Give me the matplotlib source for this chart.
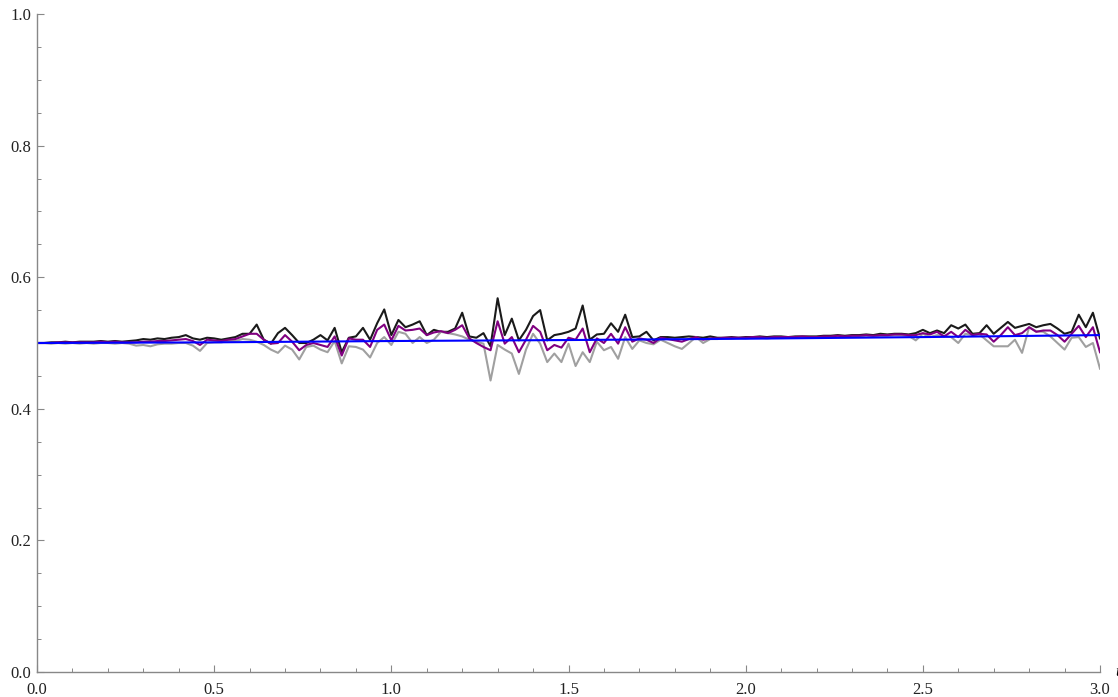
import numpy as np
import matplotlib
matplotlib.use("Agg")
import matplotlib.pyplot as plt
from matplotlib.ticker import MultipleLocator

# sample times (step 0.02 from 0 to 3)
t = np.round(np.arange(151) * 0.02, 2)

upper = [
    .500, .500, .501, .501, .502, .501, .502, .502, .502, .503,
    .502, .503, .502, .503, .504, .506, .505, .507, .506, .508,
    .509, .512, .507, .505, .508, .507, .505, .507, .509, .514,
    .514, .528, .505, .499, .515, .523, .512, .500, .500, .505,
    .512, .504, .523, .486, .508, .510, .523, .505, .530, .551,
    .512, .535, .524, .528, .533, .512, .520, .517, .517, .522,
    .546, .510, .508, .515, .495, .568, .512, .537, .504, .520,
    .541, .550, .504, .512, .514, .517, .522, .557, .505, .513,
    .514, .530, .517, .543, .509, .510, .517, .504, .509, .509,
    .508, .509, .510, .509, .508, .510, .508, .508, .509, .508,
    .509, .509, .510, .509, .510, .510, .509, .510, .510, .510,
    .510, .511, .511, .512, .511, .512, .512, .513, .512, .514,
    .513, .514, .514, .513, .515, .520, .515, .519, .515, .527,
    .522, .528, .514, .515, .527, .514, .523, .532, .523, .526,
    .529, .524, .527, .529, .522, .514, .517, .543, .524, .546,
    .507,
]

mean = [
    .500, .500, .500, .501, .501, .501, .501, .501, .501, .502,
    .501, .502, .501, .501, .501, .502, .502, .503, .503, .504,
    .505, .506, .503, .497, .505, .504, .503, .505, .506, .510,
    .514, .514, .505, .499, .500, .512, .502, .489, .497, .500,
    .497, .494, .510, .481, .507, .505, .505, .494, .520, .528,
    .504, .526, .519, .520, .522, .512, .516, .518, .515, .520,
    .527, .507, .500, .494, .489, .533, .499, .509, .486, .505,
    .526, .517, .489, .497, .493, .508, .505, .522, .486, .507,
    .500, .514, .499, .524, .502, .507, .505, .500, .508, .506,
    .504, .502, .506, .509, .505, .507, .507, .508, .508, .508,
    .508, .509, .509, .508, .509, .509, .509, .509, .510, .509,
    .509, .510, .510, .511, .510, .511, .511, .512, .511, .512,
    .512, .513, .513, .512, .512, .515, .513, .517, .510, .517,
    .509, .520, .512, .514, .513, .502, .512, .524, .512, .515,
    .524, .517, .519, .519, .512, .502, .514, .526, .509, .524,
    .486,
]

lower = [
    .500, .500, .499, .500, .499, .500, .499, .500, .499, .500,
    .500, .499, .500, .499, .496, .497, .495, .498, .499, .499,
    .500, .500, .496, .488, .500, .501, .501, .503, .503, .506,
    .505, .502, .497, .490, .485, .496, .490, .475, .494, .496,
    .490, .486, .503, .469, .495, .494, .490, .478, .500, .509,
    .497, .517, .514, .500, .509, .500, .505, .517, .515, .513,
    .510, .505, .502, .499, .443, .497, .490, .484, .453, .490,
    .514, .499, .471, .484, .471, .499, .465, .486, .471, .502,
    .489, .494, .476, .509, .491, .504, .500, .498, .505, .500,
    .495, .491, .500, .509, .500, .506, .506, .507, .507, .508,
    .507, .508, .508, .507, .508, .508, .508, .509, .509, .508,
    .509, .509, .509, .510, .509, .510, .510, .511, .510, .511,
    .511, .512, .512, .511, .504, .514, .509, .512, .511, .509,
    .500, .514, .512, .513, .504, .495, .495, .495, .505, .485,
    .524, .518, .517, .510, .500, .490, .508, .509, .494, .500,
    .461,
]

# smooth reference curve
t_ref = [0.0, 0.5, 1.0, 1.5, 2.0, 2.5, 3.0]
ref = [0.500, 0.501, 0.503, 0.5045, 0.5065, 0.509, 0.512]

plt.rcParams['font.family'] = ['Liberation Serif', 'DejaVu Serif']

fig = plt.figure(figsize=(11.18, 6.97), dpi=100)
ax = fig.add_axes([37/1118, 25/697, 1063/1118, 658/697])

ax.plot(t, upper, color='#1a1a1a', lw=1.5)
ax.plot(t, lower, color='#a0a0a0', lw=1.5)
ax.plot(t, mean, color='#800080', lw=1.5)
ax.plot(t_ref, ref, color='#0000ff', lw=1.5)

ax.set_xlim(0, 3.0)
ax.set_ylim(0, 1.0)
ax.xaxis.set_major_locator(MultipleLocator(0.5))
ax.xaxis.set_minor_locator(MultipleLocator(0.1))
ax.yaxis.set_major_locator(MultipleLocator(0.2))
ax.yaxis.set_minor_locator(MultipleLocator(0.05))
ax.xaxis.set_major_formatter(plt.FuncFormatter(lambda v, p: "%.1f" % v))
ax.yaxis.set_major_formatter(plt.FuncFormatter(lambda v, p: "%.1f" % v))

for s in ['top', 'right']:
    ax.spines[s].set_visible(False)
for s in ['left', 'bottom']:
    ax.spines[s].set_color('#888888')
    ax.spines[s].set_linewidth(1.0)

ax.tick_params(which='both', direction='in', color='#888888', labelsize=12,
               labelcolor='#222222')
ax.tick_params(which='major', length=5, width=0.8)
ax.tick_params(which='minor', length=3, width=0.7)
ax.tick_params(axis='x', pad=7)
ax.tick_params(axis='y', pad=4)

ax.annotate("t", xy=(1.0, 0.0), xycoords='axes fraction', xytext=(11, 0),
            textcoords='offset points', ha='left', va='center',
            fontsize=12, style='italic', annotation_clip=False)

fig.savefig("out.png", dpi=100)
